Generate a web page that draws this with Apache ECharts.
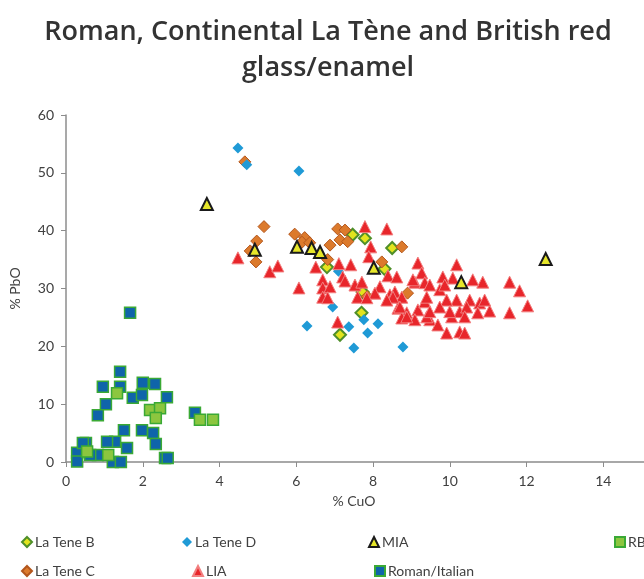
<!doctype html>
<html>
<head>
<meta charset="utf-8">
<title>Roman, Continental La Tène and British red glass/enamel</title>
<script src="https://cdn.jsdelivr.net/npm/echarts@6/dist/echarts.min.js"></script>
<style>
html,body{margin:0;padding:0;background:#fff;}
#chart{width:644px;height:579px;}
</style>
</head>
<body>
<div id="chart"></div>
<script type="text/javascript">
// [% CuO, % PbO]
var laTeneB = [[7.47,39.3],[7.79,38.7],[8.5,37.0],[6.8,33.7],[8.3,33.4],[7.73,29.4],[7.7,25.8],[7.14,22.0]];
var laTeneC = [[4.66,51.9],[5.16,40.7],[4.97,38.2],[4.95,34.6],[4.8,36.5],[5.96,39.4],[6.22,38.8],[6.15,38.0],
  [7.08,40.3],[7.14,38.4],[6.88,37.5],[7.34,38.1],[8.75,37.2],[6.82,35.0],[8.23,34.6],[8.9,29.2],[7.27,40.1],
  [6.35,37.9],[7.85,28.6]];
var laTeneD = [[4.48,54.3],[4.71,51.4],[6.07,50.3],[6.95,26.8],[6.28,23.5],[7.37,23.4],[7.76,24.6],[8.13,23.9],
  [7.86,22.3],[7.5,19.7],[8.78,19.9],[7.1,33.0]];
var lia = [[4.48,35.3],[5.31,32.9],[5.52,33.9],[6.07,30.1],[6.51,33.7],[6.69,31.5],[6.69,30.1],[6.69,28.5],
  [7.11,34.3],[7.42,34.1],[7.79,40.7],[8.36,40.3],[7.94,37.2],[7.89,35.5],[8.39,32.2],[8.62,32.0],[7.21,32.0],
  [7.27,31.3],[7.53,30.6],[7.71,31.1],[8.18,30.3],[8.05,29.2],[8.44,28.9],[8.57,29.4],[8.75,28.5],[7.6,28.5],
  [7.84,28.4],[6.88,30.3],[6.82,28.4],[7.08,24.2],[8.65,26.6],[8.88,25.8],[9.17,26.3],[9.35,27.7],[9.48,24.6],
  [9.09,24.6],[8.75,24.9],[9.17,34.4],[9.27,32.7],[9.09,31.1],[9.35,31.0],[10.18,34.1],[10.08,31.8],[10.86,31.1],
  [11.56,31.1],[11.82,29.6],[12.03,27.0],[11.56,25.8],[11.04,26.1],[10.78,27.5],[10.52,28.0],[10.6,31.5],
  [9.82,32.0],[9.74,29.8],[9.48,30.6],[9.4,28.5],[9.04,31.5],[8.52,28.5],[8.88,25.1],[9.4,25.1],[9.69,23.7],
  [9.92,22.3],[10.26,22.5],[10.39,22.3],[10.05,25.1],[10.26,26.0],[10.44,26.8],[10.18,28.0],[9.92,28.0],
  [9.74,26.8],[10.91,28.0],[10.73,25.8],[10.39,25.1],[10.0,26.0],[9.48,26.0],[9.87,30.6],[8.36,28.0],[8.7,26.8]];
var mia = [[3.67,44.6],[4.92,36.7],[6.02,37.2],[6.4,37.0],[6.62,36.3],[8.02,33.6],[10.3,31.1],[12.5,35.1]];
var romanItalian = [[1.67,25.8],[1.41,15.6],[0.96,13.0],[1.41,13.0],[1.04,10.0],[0.83,8.1],[1.74,11.1],[1.98,11.6],
  [2.0,13.7],[2.32,13.5],[2.63,11.2],[1.51,5.5],[1.98,5.5],[2.27,5.0],[2.34,3.1],[1.59,2.4],[1.28,3.5],[1.07,3.5],
  [0.52,3.3],[0.29,1.6],[0.29,0.1],[0.83,1.2],[1.22,0.0],[1.43,0.0],[2.58,0.7],[2.65,0.7],[3.36,8.5],[0.63,1.2],
  [0.44,3.3]];
var rb = [[1.33,11.9],[2.19,9.0],[2.45,9.3],[2.34,7.6],[3.49,7.3],[3.83,7.3],[0.55,1.8],[1.1,1.2]];

var legendRows = [
  ['La Tene B', 21, 535], ['La Tene D', 182, 535], ['MIA', 368, 535], ['RB', 614, 535],
  ['La Tene C', 21, 564], ['LIA', 192, 564], ['Roman/Italian', 374, 564]
];

var font = 'Lato';
var chart = echarts.init(document.getElementById('chart'));

var legends = legendRows.map(function (r) {
  return {
    data: [r[0]], left: r[1], top: r[2], padding: 0, itemWidth: 10, itemHeight: 10, itemGap: 4,
    textStyle: {fontFamily: font, fontSize: 14, color: '#404040', padding: [0, 0, 0, -2]}
  };
});

function sc(name, data, symbol, size, fill, border, bw) {
  return {
    name: name, type: 'scatter', data: data, symbol: symbol, symbolSize: size, clip: false,
    itemStyle: {color: fill, borderColor: border, borderWidth: bw, opacity: 1}
  };
}

chart.setOption({
  animation: false,
  title: {
    text: 'Roman, Continental La Tène and British red\nglass/enamel',
    left: 323, top: 9, textAlign: 'center',
    textStyle: {fontFamily: 'Open Sans', fontSize: 27, fontWeight: 600, color: '#333', lineHeight: 36}
  },
  legend: legends,
  grid: {left: 66, top: 115, width: 614, height: 347, outerBoundsMode: 'none', containLabel: false},
  xAxis: {
    type: 'value', min: 0, max: 16, interval: 2,
    name: '% CuO', nameLocation: 'middle', nameGap: 32,
    nameTextStyle: {fontFamily: font, fontSize: 14, color: '#404040', padding: [0, 38, 0, 0]},
    axisLine: {lineStyle: {color: '#8c8c8c', width: 1.5}},
    axisTick: {show: true, length: 5, lineStyle: {color: '#8c8c8c'}},
    axisLabel: {fontFamily: font, fontSize: 14, color: '#404040', margin: 12},
    splitLine: {show: false}
  },
  yAxis: {
    type: 'value', min: 0, max: 60, interval: 10,
    name: '% PbO', nameLocation: 'middle', nameGap: 44, nameRotate: 90,
    nameTextStyle: {fontFamily: font, fontSize: 14, color: '#404040'},
    axisLine: {show: true, lineStyle: {color: '#8c8c8c', width: 1.5}},
    axisTick: {show: true, length: 5, lineStyle: {color: '#8c8c8c'}},
    axisLabel: {fontFamily: font, fontSize: 14, color: '#404040', margin: 12},
    splitLine: {show: false}
  },
  series: [
    sc('La Tene B', laTeneB, 'diamond', 12, '#e2e41e', '#4f8f2a', 2),
    sc('La Tene C', laTeneC, 'diamond', 12, '#dc7a2c', '#b3561c', 1),
    sc('La Tene D', laTeneD, 'diamond', 11, '#1f9ad6', '#1f9ad6', 0),
    sc('LIA', lia, 'triangle', 12, '#e8262b', '#f27f7f', 1),
    sc('MIA', mia, 'triangle', 12, '#e6e62a', '#1a1a1a', 2),
    sc('Roman/Italian', romanItalian, 'rect', 11, '#0f64aa', '#3aa935', 1.5),
    sc('RB', rb, 'rect', 11, '#8cc63f', '#3aa935', 1.5)
  ]
});
</script>
</body>
</html>
